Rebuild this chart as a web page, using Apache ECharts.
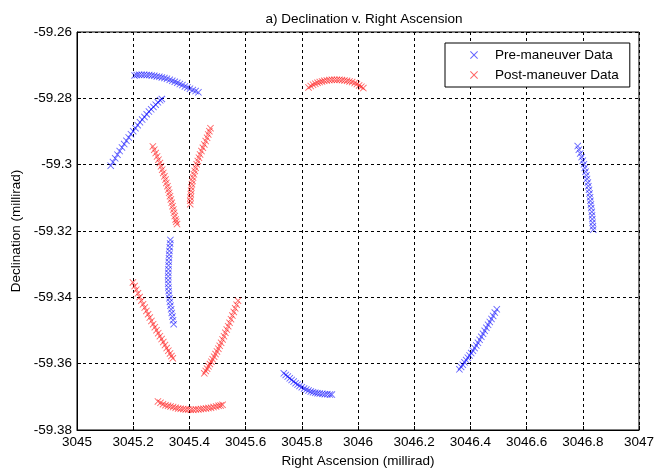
<!DOCTYPE html>
<html>
<head>
<meta charset="utf-8">
<script src="https://cdn.jsdelivr.net/npm/echarts@6/dist/echarts.min.js"></script>
<style>
  html, body { margin: 0; padding: 0; background: #ffffff; }
  #chart { width: 657px; height: 475px; }
</style>
</head>
<body>
<div id="chart"></div>
<script>
// Right ascension / declination tracks (millirad), one array per arc.
const preArcTop = [
  [3045.205, -59.2731], [3045.213, -59.2730], [3045.221, -59.2729], [3045.230, -59.2729],
  [3045.239, -59.2729], [3045.248, -59.2730], [3045.257, -59.2730], [3045.266, -59.2731],
  [3045.275, -59.2732], [3045.284, -59.2734], [3045.293, -59.2735], [3045.302, -59.2737],
  [3045.311, -59.2739], [3045.320, -59.2741], [3045.330, -59.2744], [3045.339, -59.2747],
  [3045.348, -59.2750], [3045.357, -59.2753], [3045.366, -59.2757], [3045.375, -59.2760],
  [3045.384, -59.2764], [3045.393, -59.2767], [3045.402, -59.2771], [3045.412, -59.2775],
  [3045.422, -59.2778], [3045.432, -59.2782]
];
const preArcLeft = [
  [3045.120, -59.3003], [3045.128, -59.2992], [3045.136, -59.2981], [3045.144, -59.2970],
  [3045.152, -59.2959], [3045.160, -59.2948], [3045.168, -59.2938], [3045.176, -59.2928],
  [3045.184, -59.2918], [3045.192, -59.2908], [3045.200, -59.2899], [3045.208, -59.2890],
  [3045.216, -59.2881], [3045.224, -59.2872], [3045.232, -59.2864], [3045.240, -59.2856],
  [3045.248, -59.2848], [3045.256, -59.2840], [3045.264, -59.2833], [3045.272, -59.2826],
  [3045.280, -59.2819], [3045.288, -59.2812], [3045.296, -59.2806], [3045.302, -59.2802]
];
const preArcMid = [
  [3045.3325, -59.3227], [3045.3315, -59.3238], [3045.3302, -59.3249], [3045.3290, -59.3260],
  [3045.3281, -59.3271], [3045.3273, -59.3282], [3045.3266, -59.3293], [3045.3259, -59.3304],
  [3045.3253, -59.3315], [3045.3249, -59.3326], [3045.3246, -59.3337], [3045.3245, -59.3348],
  [3045.3247, -59.3359], [3045.3253, -59.3370], [3045.3262, -59.3381], [3045.3275, -59.3392],
  [3045.3290, -59.3403], [3045.3308, -59.3414], [3045.3328, -59.3425], [3045.3350, -59.3436],
  [3045.3373, -59.3447], [3045.3396, -59.3458], [3045.3419, -59.3469], [3045.3442, -59.3481]
];
const preArcRight = [
  [3046.782, -59.2944], [3046.786, -59.2955], [3046.791, -59.2966], [3046.796, -59.2977],
  [3046.800, -59.2988], [3046.804, -59.2999], [3046.807, -59.3010], [3046.810, -59.3021],
  [3046.813, -59.3032], [3046.815, -59.3043], [3046.818, -59.3054], [3046.820, -59.3065],
  [3046.822, -59.3076], [3046.824, -59.3087], [3046.826, -59.3098], [3046.827, -59.3109],
  [3046.829, -59.3120], [3046.830, -59.3131], [3046.832, -59.3142], [3046.833, -59.3153],
  [3046.834, -59.3164], [3046.835, -59.3175], [3046.836, -59.3186], [3046.837, -59.3196]
];
const preArcBottom = [
  [3045.736, -59.3629], [3045.743, -59.3634], [3045.750, -59.3639], [3045.757, -59.3644],
  [3045.764, -59.3649], [3045.771, -59.3654], [3045.778, -59.3659], [3045.785, -59.3663],
  [3045.792, -59.3667], [3045.800, -59.3671], [3045.808, -59.3675], [3045.816, -59.3678],
  [3045.824, -59.3681], [3045.832, -59.3684], [3045.840, -59.3686], [3045.848, -59.3688],
  [3045.856, -59.3689], [3045.864, -59.3690], [3045.873, -59.3691], [3045.882, -59.3692],
  [3045.891, -59.3692], [3045.900, -59.3693], [3045.907, -59.3693]
];
const preArcLowRight = [
  [3046.361, -59.3617], [3046.367, -59.3610], [3046.373, -59.3603], [3046.379, -59.3596],
  [3046.385, -59.3589], [3046.391, -59.3582], [3046.397, -59.3575], [3046.403, -59.3568],
  [3046.409, -59.3561], [3046.415, -59.3553], [3046.421, -59.3545], [3046.427, -59.3537],
  [3046.433, -59.3528], [3046.439, -59.3519], [3046.445, -59.3510], [3046.451, -59.3501],
  [3046.457, -59.3492], [3046.463, -59.3483], [3046.469, -59.3474], [3046.475, -59.3465],
  [3046.481, -59.3456], [3046.487, -59.3446], [3046.494, -59.3436]
];

const postArcTop = [
  [3045.824, -59.2767], [3045.832, -59.2763], [3045.840, -59.2759], [3045.848, -59.2756],
  [3045.856, -59.2753], [3045.864, -59.2751], [3045.872, -59.2749], [3045.880, -59.2747],
  [3045.889, -59.2746], [3045.898, -59.2745], [3045.907, -59.2744], [3045.916, -59.2744],
  [3045.925, -59.2744], [3045.934, -59.2744], [3045.943, -59.2745], [3045.952, -59.2746],
  [3045.961, -59.2747], [3045.970, -59.2749], [3045.979, -59.2751], [3045.988, -59.2754],
  [3045.996, -59.2757], [3046.004, -59.2761], [3046.012, -59.2765], [3046.019, -59.2769]
];
const postArcVLeft = [
  [3045.270, -59.2945], [3045.275, -59.2955], [3045.280, -59.2965], [3045.285, -59.2975],
  [3045.290, -59.2985], [3045.295, -59.2995], [3045.299, -59.3005], [3045.303, -59.3015],
  [3045.307, -59.3025], [3045.311, -59.3035], [3045.315, -59.3045], [3045.318, -59.3055],
  [3045.322, -59.3065], [3045.325, -59.3075], [3045.328, -59.3085], [3045.331, -59.3095],
  [3045.334, -59.3105], [3045.337, -59.3115], [3045.340, -59.3125], [3045.343, -59.3135],
  [3045.345, -59.3145], [3045.348, -59.3155], [3045.351, -59.3165], [3045.353, -59.3172],
  [3045.356, -59.3179]
];
const postArcVRight = [
  [3045.403, -59.3119], [3045.403, -59.3109], [3045.404, -59.3099], [3045.405, -59.3089],
  [3045.406, -59.3079], [3045.407, -59.3069], [3045.409, -59.3059], [3045.411, -59.3049],
  [3045.413, -59.3039], [3045.416, -59.3029], [3045.419, -59.3019], [3045.422, -59.3009],
  [3045.426, -59.2999], [3045.430, -59.2989], [3045.434, -59.2979], [3045.438, -59.2969],
  [3045.443, -59.2959], [3045.448, -59.2949], [3045.453, -59.2939], [3045.458, -59.2929],
  [3045.463, -59.2919], [3045.467, -59.2909], [3045.471, -59.2899], [3045.475, -59.2890]
];
const postArcLowLeft = [
  [3045.199, -59.3355], [3045.205, -59.3366], [3045.211, -59.3377], [3045.217, -59.3388],
  [3045.223, -59.3399], [3045.229, -59.3410], [3045.235, -59.3421], [3045.241, -59.3431],
  [3045.247, -59.3441], [3045.253, -59.3451], [3045.259, -59.3461], [3045.265, -59.3471],
  [3045.271, -59.3481], [3045.277, -59.3490], [3045.283, -59.3499], [3045.289, -59.3508],
  [3045.295, -59.3517], [3045.301, -59.3526], [3045.307, -59.3535], [3045.313, -59.3544],
  [3045.319, -59.3553], [3045.325, -59.3561], [3045.331, -59.3569], [3045.336, -59.3577],
  [3045.341, -59.3584]
];
const postArcLowRight = [
  [3045.453, -59.3629], [3045.458, -59.3622], [3045.463, -59.3615], [3045.468, -59.3608],
  [3045.473, -59.3601], [3045.478, -59.3594], [3045.483, -59.3587], [3045.488, -59.3579],
  [3045.493, -59.3571], [3045.498, -59.3563], [3045.503, -59.3555], [3045.508, -59.3546],
  [3045.513, -59.3537], [3045.518, -59.3527], [3045.523, -59.3517], [3045.528, -59.3507],
  [3045.533, -59.3497], [3045.538, -59.3487], [3045.543, -59.3477], [3045.548, -59.3466],
  [3045.553, -59.3455], [3045.558, -59.3444], [3045.563, -59.3433], [3045.568, -59.3422],
  [3045.573, -59.3410]
];
const postArcBottom = [
  [3045.288, -59.3714], [3045.297, -59.3718], [3045.306, -59.3722], [3045.315, -59.3725],
  [3045.324, -59.3727], [3045.333, -59.3729], [3045.342, -59.3731], [3045.351, -59.3733],
  [3045.360, -59.3735], [3045.369, -59.3736], [3045.378, -59.3737], [3045.387, -59.3738],
  [3045.396, -59.3738], [3045.405, -59.3739], [3045.414, -59.3739], [3045.423, -59.3738],
  [3045.432, -59.3738], [3045.441, -59.3737], [3045.450, -59.3736], [3045.459, -59.3735],
  [3045.468, -59.3734], [3045.477, -59.3733], [3045.486, -59.3731], [3045.495, -59.3729],
  [3045.504, -59.3727], [3045.511, -59.3726], [3045.518, -59.3724]
];

const seriesNames = ['Pre-maneuver Data', 'Post-maneuver Data'];
const xTicks = { min: 3045, max: 3047, step: 0.2 };
const yTicks = { min: -59.38, max: -59.26, step: 0.02 };

const preData = [].concat(preArcTop, preArcLeft, preArcMid, preArcRight, preArcBottom, preArcLowRight);
const postData = [].concat(postArcTop, postArcVLeft, postArcVRight, postArcLowLeft, postArcLowRight, postArcBottom);

// "x" shaped marker drawn as a thin filled cross
const crossMarker = 'path://M0,0.9L0.9,0L5,4.1L9.1,0L10,0.9L5.9,5L10,9.1L9.1,10L5,5.9L0.9,10L0,9.1L4.1,5Z';
const font = 'Liberation Sans, Arial, sans-serif';
const fs = 13.5;

const chart = echarts.init(document.getElementById('chart'), null, { renderer: 'canvas' });

chart.setOption({
  backgroundColor: '#ffffff',
  animation: false,
  title: {
    text: 'a) Declination v. Right Ascension',
    left: 359, top: 7, textAlign: 'center',
    textStyle: { fontFamily: font, fontSize: fs, fontWeight: 'normal', color: '#000' }
  },
  legend: {
    data: seriesNames,
    orient: 'vertical',
    left: 445, top: 43,
    padding: [5, 11, 5, 25],
    itemGap: 6,
    itemWidth: 8, itemHeight: 8,
    icon: crossMarker,
    borderColor: '#000', borderWidth: 1,
    backgroundColor: '#fff',
    textStyle: { fontFamily: font, fontSize: fs, color: '#000', padding: [0, 0, 0, 12], lineHeight: 14 }
  },
  grid: {
    left: 77, right: 14, top: 32, bottom: 45,
    show: true, borderColor: '#000', borderWidth: 1, backgroundColor: '#fff'
  },
  xAxis: {
    type: 'value',
    min: xTicks.min, max: xTicks.max, interval: xTicks.step,
    name: 'Right Ascension (millirad)',
    nameLocation: 'middle', nameGap: 24,
    nameTextStyle: { fontFamily: font, fontSize: fs, color: '#000' },
    axisLine: { show: true, lineStyle: { color: '#000', width: 1 } },
    axisTick: { show: true, inside: true, length: 4, lineStyle: { color: '#000' } },
    axisLabel: {
      margin: 5, fontFamily: font, fontSize: fs, color: '#000',
      formatter: v => String(parseFloat(v.toFixed(1)))
    },
    splitLine: { show: true, lineStyle: { color: '#000', type: [3, 3], width: 1 } }
  },
  yAxis: {
    type: 'value',
    min: yTicks.min, max: yTicks.max, interval: yTicks.step,
    name: 'Declination (millirad)',
    nameLocation: 'middle', nameGap: 49,
    nameTextStyle: { fontFamily: font, fontSize: fs, color: '#000' },
    axisLine: { show: true, lineStyle: { color: '#000', width: 1 } },
    axisTick: { show: true, inside: true, length: 4, lineStyle: { color: '#000' } },
    axisLabel: {
      margin: 5, fontFamily: font, fontSize: fs, color: '#000',
      formatter: v => String(parseFloat(v.toFixed(2)))
    },
    splitLine: { show: true, lineStyle: { color: '#000', type: [3, 3], width: 1 } }
  },
  series: [
    {
      name: seriesNames[0], type: 'scatter', data: preData,
      symbol: crossMarker, symbolSize: 7,
      itemStyle: { color: '#0000ff', opacity: 0.6 }
    },
    {
      name: seriesNames[1], type: 'scatter', data: postData,
      symbol: crossMarker, symbolSize: 7,
      itemStyle: { color: '#ff0000', opacity: 0.6 }
    }
  ]
});
</script>
</body>
</html>
